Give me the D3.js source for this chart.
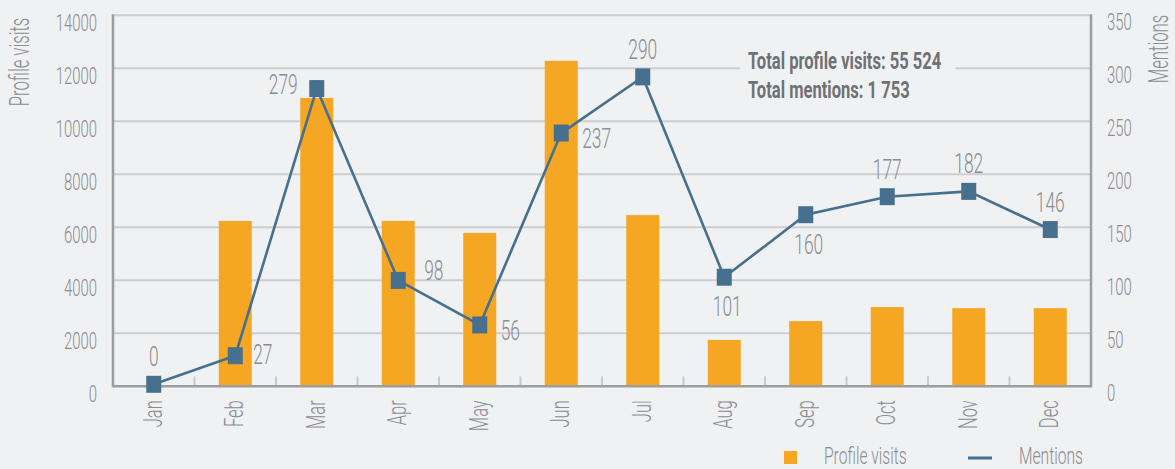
<!DOCTYPE html>
<html lang="en">
<head>
<meta charset="UTF-8" />
<title>Profile visits and mentions</title>
<style>
  html, body { margin: 0; padding: 0; background: #f0f1f3; }
  svg { display: block; }
  text { font-family: Roboto, "Liberation Sans", sans-serif; font-weight: 300; fill: #8b8d90; }
  .grid line { stroke: #cdcecf; stroke-width: 2px; }
  .frame { stroke: #9c9d9d; stroke-width: 2.5px; }
  .inner-tick { stroke: #c9cacb; stroke-width: 2px; }
  .bar { fill: #f5a623; }
  .mention-line { fill: none; stroke: #47708f; stroke-width: 2.6px; }
  .marker { fill: #47708f; }
  .total { font-weight: 700; fill: #6f7173; }
</style>
</head>
<body>
<script src="https://cdn.jsdelivr.net/npm/d3@7"></script>
<script>

var months = ["Jan", "Feb", "Mar", "Apr", "May", "Jun", "Jul", "Aug", "Sep", "Oct", "Nov", "Dec"];
var profileVisits = [0, 6240, 10880, 6240, 5790, 12280, 6460, 1750, 2460, 2990, 2950, 2950];
var mentions = [0, 27, 279, 98, 56, 237, 290, 101, 160, 177, 182, 146];
var visitTicks = [0, 2000, 4000, 6000, 8000, 10000, 12000, 14000];
var mentionTicks = [0, 50, 100, 150, 200, 250, 300, 350];
var labelSide = ["top", "right", "left", "rightUp", "rightDown", "rightDown", "top", "bottom", "bottom", "top", "top", "top"];
var totals = ["Total profile visits: 55 524", "Total mentions: 1 753"];

var w = 1175, h = 469;
var margin = { top: 15.3, right: 84, bottom: 82.7, left: 113 };
var k = 0.62;       // horizontal squeeze to get a condensed look
var kBold = 0.69;

var svg = d3.select("body").append("svg")
  .attr("width", w)
  .attr("height", h);

var x = d3.scaleBand()
  .domain(months)
  .range([margin.left, w - margin.right])
  .paddingInner(0.595)
  .paddingOuter(0.2975);

var yL = d3.scaleLinear()
  .domain([0, 14000])
  .range([h - margin.bottom, margin.top]);

var yR = d3.scaleLinear()
  .domain([0, 350])
  .range([h - margin.bottom, margin.top]);

function squeezed(parent, px, py, str, size, sx, anchor, rot) {
  return parent.append("text")
    .attr("transform", "translate(" + px + "," + py + ")" + (rot ? " rotate(" + rot + ")" : "") + " scale(" + sx + ",1)")
    .attr("text-anchor", anchor || "start")
    .style("font-size", size + "px")
    .text(str);
}

// gridlines
svg.append("g")
  .attr("class", "grid")
  .selectAll("line")
  .data(visitTicks.slice(1))
  .enter()
  .append("line")
  .attr("x1", margin.left)
  .attr("x2", w - margin.right)
  .attr("y1", function(d) { return yL(d); })
  .attr("y2", function(d) { return yL(d); });

// little ticks between months
svg.append("g")
  .selectAll("line")
  .data(months.slice(1))
  .enter()
  .append("line")
  .attr("class", "inner-tick")
  .attr("x1", function(d) { return x(d) - x.step() * x.paddingInner() / 2; })
  .attr("x2", function(d) { return x(d) - x.step() * x.paddingInner() / 2; })
  .attr("y1", yL(0))
  .attr("y2", yL(0) - 10);

// bars
svg.append("g")
  .selectAll("rect")
  .data(profileVisits)
  .enter()
  .append("rect")
  .attr("class", "bar")
  .attr("x", function(d, i) { return x(months[i]); })
  .attr("width", x.bandwidth())
  .attr("y", function(d) { return yL(d); })
  .attr("height", function(d) { return yL(0) - yL(d); });

// frame
svg.append("line").attr("class", "frame")
  .attr("x1", margin.left).attr("x2", margin.left)
  .attr("y1", yL(14000) - 1).attr("y2", yL(0) + 1);
svg.append("line").attr("class", "frame")
  .attr("x1", w - margin.right).attr("x2", w - margin.right)
  .attr("y1", yL(14000) - 1).attr("y2", yL(0) + 1);
svg.append("line").attr("class", "frame")
  .attr("x1", margin.left).attr("x2", w - margin.right)
  .attr("y1", yL(0)).attr("y2", yL(0));

// left axis labels
var leftAxis = svg.append("g")
  .attr("transform", "translate(" + margin.left + ",0)")
  .call(d3.axisLeft(yL).tickValues(visitTicks).tickFormat(d3.format("d")).tickSize(0).tickPadding(0));
leftAxis.attr("font-family", null).attr("font-size", null);
leftAxis.select(".domain").remove();
leftAxis.selectAll("text")
  .attr("x", -16 / k)
  .attr("y", 7)
  .attr("dy", "0.36em")
  .attr("transform", "scale(" + k + ",1)")
  .style("font-size", "24px");

// right axis labels
var rightAxis = svg.append("g")
  .attr("transform", "translate(" + (w - margin.right) + ",0)")
  .call(d3.axisRight(yR).tickValues(mentionTicks).tickSize(0).tickPadding(0));
rightAxis.attr("font-family", null).attr("font-size", null);
rightAxis.select(".domain").remove();
rightAxis.selectAll("text")
  .attr("x", 16 / k)
  .attr("y", 6)
  .attr("dy", "0.36em")
  .attr("transform", "scale(" + k + ",1)")
  .style("font-size", "24px");

// month labels, rotated
var bottomAxis = svg.append("g")
  .attr("transform", "translate(0," + yL(0) + ")")
  .call(d3.axisBottom(x).tickSize(0).tickPadding(0));
bottomAxis.attr("font-family", null).attr("font-size", null);
bottomAxis.select(".domain").remove();
bottomAxis.selectAll("text")
  .attr("text-anchor", "end")
  .attr("x", -14 / 0.66)
  .attr("y", 0)
  .attr("dy", "0.31em")
  .attr("transform", "rotate(-90) scale(0.66,1)")
  .style("font-size", "25px");

// axis titles
squeezed(svg, 29, 62, "Profile visits", 27, k, "middle", -90);
squeezed(svg, 1168, 49, "Mentions", 27, k, "middle", -90);

// mentions line
var lineG = svg.append("g").attr("transform", "translate(0,-2)");

var line = d3.line()
  .x(function(d, i) { return x(months[i]) + x.bandwidth() / 2; })
  .y(function(d) { return yR(d); });

lineG.append("path")
  .datum(mentions)
  .attr("class", "mention-line")
  .attr("d", line);

lineG.selectAll("rect")
  .data(mentions)
  .enter()
  .append("rect")
  .attr("class", "marker")
  .attr("x", function(d, i) { return x(months[i]) + x.bandwidth() / 2 - 7.5; })
  .attr("y", function(d) { return yR(d) - 8.5; })
  .attr("width", 15)
  .attr("height", 17);

var place = {
  top:       { dx: 0,   dy: -18, anchor: "middle" },
  bottom:    { dx: 3,   dy: 39,  anchor: "middle" },
  right:     { dx: 18,  dy: 8,   anchor: "start" },
  rightUp:   { dx: 26,  dy: 0,   anchor: "start" },
  rightDown: { dx: 21,  dy: 15,  anchor: "start" },
  left:      { dx: -19, dy: 5,   anchor: "end" }
};

mentions.forEach(function(d, i) {
  var p = place[labelSide[i]];
  squeezed(lineG, x(months[i]) + x.bandwidth() / 2 + p.dx, yR(d) + p.dy, d, 28, k, p.anchor);
});

// totals box
var totalG = svg.append("g");
var bg = totalG.append("rect").attr("fill", "#f0f1f3");
totals.forEach(function(t, i) {
  squeezed(totalG, 748, 69 + i * 29, t, 24, kBold, "start").attr("class", "total");
});
var bb = totalG.node().getBBox();
bg.attr("x", bb.x - 8).attr("y", bb.y).attr("width", bb.width + 22).attr("height", bb.height);

// legend
var legend = svg.append("g");
legend.append("rect")
  .attr("x", 784).attr("y", 451)
  .attr("width", 13).attr("height", 13)
  .attr("class", "bar");
squeezed(legend, 824, 464, "Profile visits", 23, 0.68, "start");
legend.append("line")
  .attr("x1", 968).attr("x2", 992)
  .attr("y1", 458).attr("y2", 458)
  .attr("stroke", "#47708f")
  .attr("stroke-width", 3);
squeezed(legend, 1019, 464, "Mentions", 23, 0.68, "start");

</script>
</body>
</html>
